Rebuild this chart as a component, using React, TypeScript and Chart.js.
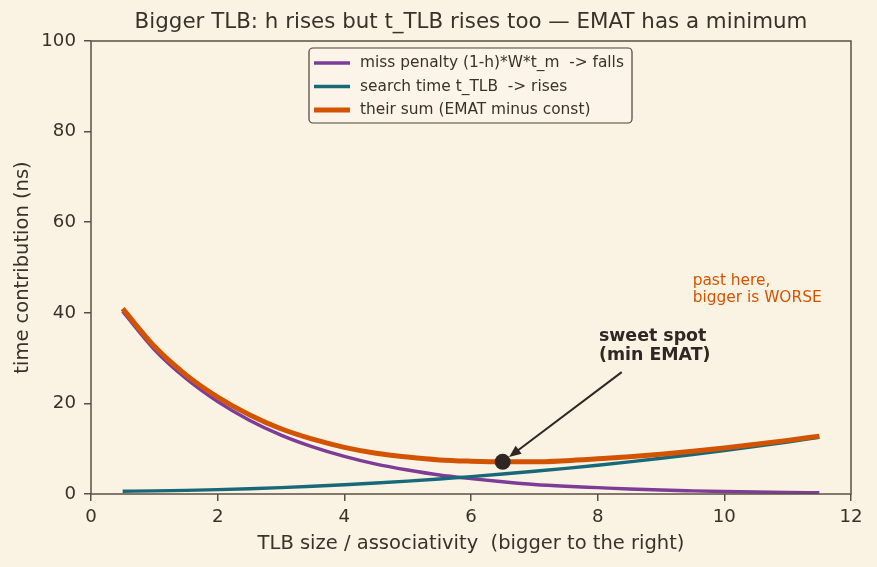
import React, { useEffect, useRef } from "react";
import { Chart, registerables } from "chart.js";

Chart.register(...registerables);

// ---- data ----
const xValues = [0.5, 1, 1.5, 2, 2.5, 3, 3.5, 4, 4.5, 5, 5.5, 6, 6.5, 7, 7.5, 8, 8.5, 9, 9.5, 10, 10.5, 11, 11.5];
const missPenalty = [40.3, 31.9, 25.5, 20.4, 16.3, 13.0, 10.4, 8.3, 6.6, 5.3, 4.2, 3.4, 2.7, 2.1, 1.7, 1.4, 1.1, 0.87, 0.7, 0.55, 0.44, 0.35, 0.28];
const searchTime = [0.62, 0.69, 0.8, 0.96, 1.16, 1.41, 1.7, 2.04, 2.42, 2.85, 3.32, 3.84, 4.4, 5.01, 5.66, 6.36, 7.1, 7.89, 8.72, 9.6, 10.52, 11.49, 12.5];
const sumValues = [40.9, 32.6, 26.3, 21.4, 17.5, 14.4, 12.1, 10.3, 9.0, 8.15, 7.52, 7.24, 7.1, 7.11, 7.36, 7.76, 8.2, 8.76, 9.42, 10.15, 10.96, 11.84, 12.78];
const seriesLabels = [
  "miss penalty (1-h)*W*t_m  -> falls",
  "search time t_TLB  -> rises",
  "their sum (EMAT minus const)",
];
const seriesColors = ["#7d3c98", "#17697a", "#d35400"];
const xTicks = [0, 2, 4, 6, 8, 10, 12];
const yTicks = [0, 20, 40, 60, 80, 100];
const minX = 6.5;
const minY = 7.1;

const TITLE = "Bigger TLB: h rises but t_TLB rises too \u2014 EMAT has a minimum";
const XLABEL = "TLB size / associativity  (bigger to the right)";
const YLABEL = "time contribution (ns)";

const BG = "#faf2e3";
const AXIS = "#5b4f45";
const TEXT = "#3a3129";
const FONT = "'DejaVu Sans', sans-serif";

const toPts = (ys: number[]) => xValues.map((x, i) => ({ x, y: ys[i] }));

const decoPlugin = {
  id: "deco",
  beforeDraw(chart: any) {
    const { ctx, width, height } = chart;
    ctx.save();
    ctx.fillStyle = BG;
    ctx.fillRect(0, 0, width, height);
    ctx.restore();
  },
  afterDraw(chart: any) {
    const { ctx, chartArea: a, scales } = chart;
    const xs = scales.x;
    const ys = scales.y;
    ctx.save();
    // frame
    ctx.strokeStyle = AXIS;
    ctx.lineWidth = 1.5;
    ctx.strokeRect(a.left, a.top, a.right - a.left, a.bottom - a.top);

    // title
    ctx.fillStyle = TEXT;
    ctx.textAlign = "center";
    ctx.textBaseline = "middle";
    ctx.font = `21.4px ${FONT}`;
    ctx.fillText(TITLE, (a.left + a.right) / 2, 22);

    // axis titles
    ctx.font = `19.5px ${FONT}`;
    ctx.fillText(XLABEL, (a.left + a.right) / 2, 544);
    ctx.save();
    ctx.translate(23, (a.top + a.bottom) / 2);
    ctx.rotate(-Math.PI / 2);
    ctx.fillText(YLABEL, 0, 0);
    ctx.restore();

    // arrow to sweet spot
    const tx = xs.getPixelForValue(8.38);
    const ty = ys.getPixelForValue(26.9);
    const px = xs.getPixelForValue(minX);
    const py = ys.getPixelForValue(minY);
    const ang = Math.atan2(py - ty, px - tx);
    const hx = px - Math.cos(ang) * 8;
    const hy = py - Math.sin(ang) * 8;
    ctx.strokeStyle = "#2e2723";
    ctx.fillStyle = "#2e2723";
    ctx.lineWidth = 2;
    ctx.beginPath();
    ctx.moveTo(tx, ty);
    ctx.lineTo(hx - Math.cos(ang) * 8, hy - Math.sin(ang) * 8);
    ctx.stroke();
    ctx.beginPath();
    ctx.moveTo(hx, hy);
    ctx.lineTo(hx - Math.cos(ang) * 12 + Math.sin(ang) * 5, hy - Math.sin(ang) * 12 - Math.cos(ang) * 5);
    ctx.lineTo(hx - Math.cos(ang) * 12 - Math.sin(ang) * 5, hy - Math.sin(ang) * 12 + Math.cos(ang) * 5);
    ctx.closePath();
    ctx.fill();

    // annotations
    ctx.textAlign = "left";
    ctx.font = `bold 17.4px ${FONT}`;
    ctx.fillStyle = "#2e2723";
    const ax = xs.getPixelForValue(8.02);
    ctx.fillText("sweet spot", ax, ys.getPixelForValue(34.7));
    ctx.fillText("(min EMAT)", ax, ys.getPixelForValue(30.6));
    ctx.font = `15.4px ${FONT}`;
    ctx.fillStyle = "#d35400";
    const ox = xs.getPixelForValue(9.5);
    ctx.fillText("past here,", ox, ys.getPixelForValue(47.0));
    ctx.fillText("bigger is WORSE", ox, ys.getPixelForValue(43.3));

    // legend
    const lx = 309, ly = 48, lw = 323, lh = 75, r = 4;
    ctx.beginPath();
    ctx.moveTo(lx + r, ly);
    ctx.arcTo(lx + lw, ly, lx + lw, ly + lh, r);
    ctx.arcTo(lx + lw, ly + lh, lx, ly + lh, r);
    ctx.arcTo(lx, ly + lh, lx, ly, r);
    ctx.arcTo(lx, ly, lx + lw, ly, r);
    ctx.closePath();
    ctx.fillStyle = "rgba(251,245,234,0.85)";
    ctx.fill();
    ctx.strokeStyle = "#4a4038";
    ctx.lineWidth = 1.2;
    ctx.stroke();
    const rows = [63, 86.5, 110];
    const lws = [3.5, 3.5, 5];
    ctx.font = `15.4px ${FONT}`;
    seriesLabels.forEach((lab, i) => {
      ctx.strokeStyle = seriesColors[i];
      ctx.lineWidth = lws[i];
      ctx.beginPath();
      ctx.moveTo(314, rows[i]);
      ctx.lineTo(350, rows[i]);
      ctx.stroke();
      ctx.fillStyle = TEXT;
      ctx.fillText(lab, 360, rows[i]);
    });
    ctx.restore();
  },
};

export default function App() {
  const ref = useRef<HTMLCanvasElement | null>(null);
  useEffect(() => {
    document.body.style.margin = "0";
    const cv = ref.current;
    if (!cv) return;
    const chart = new Chart(cv, {
      type: "line",
      data: {
        datasets: [
          {
            label: "min",
            data: [{ x: minX, y: minY }],
            showLine: false,
            pointRadius: 8,
            pointBackgroundColor: "#2e2723",
            pointBorderWidth: 0,
            order: 0,
          } as any,
          {
            label: seriesLabels[2],
            data: toPts(sumValues),
            borderColor: seriesColors[2],
            borderWidth: 5,
            pointRadius: 0,
            cubicInterpolationMode: "monotone",
            order: 1,
          },
          {
            label: seriesLabels[1],
            data: toPts(searchTime),
            borderColor: seriesColors[1],
            borderWidth: 3.4,
            pointRadius: 0,
            cubicInterpolationMode: "monotone",
            order: 2,
          },
          {
            label: seriesLabels[0],
            data: toPts(missPenalty),
            borderColor: seriesColors[0],
            borderWidth: 3.4,
            pointRadius: 0,
            cubicInterpolationMode: "monotone",
            order: 3,
          },
        ],
      },
      options: {
        animation: false,
        responsive: false,
        devicePixelRatio: 1,
        layout: { padding: { top: 41, right: 26, left: 0, bottom: 0 } },
        plugins: { legend: { display: false }, tooltip: { enabled: false }, title: { display: false } },
        scales: {
          x: {
            type: "linear",
            min: 0,
            max: 12,
            afterBuildTicks: (s: any) => { s.ticks = xTicks.map((v) => ({ value: v })); },
            afterFit: (s: any) => { s.height = 73; },
            grid: { drawOnChartArea: false, drawTicks: true, tickLength: 7, color: AXIS, lineWidth: 1.5 },
            border: { display: false },
            ticks: { color: TEXT, font: { family: FONT, size: 18.2 }, padding: 5, maxRotation: 0 },
          },
          y: {
            type: "linear",
            min: 0,
            max: 100,
            afterBuildTicks: (s: any) => { s.ticks = yTicks.map((v) => ({ value: v })); },
            afterFit: (s: any) => { s.width = 91; },
            grid: { drawOnChartArea: false, drawTicks: true, tickLength: 7, color: AXIS, lineWidth: 1.5 },
            border: { display: false },
            ticks: { color: TEXT, font: { family: FONT, size: 18.2 }, padding: 8 },
          },
        },
      },
      plugins: [decoPlugin],
    });
    return () => chart.destroy();
  }, []);
  return (
    <div style={{ width: 877, height: 567 }}>
      <canvas ref={ref} width={877} height={567} style={{ display: "block" }} />
    </div>
  );
}
